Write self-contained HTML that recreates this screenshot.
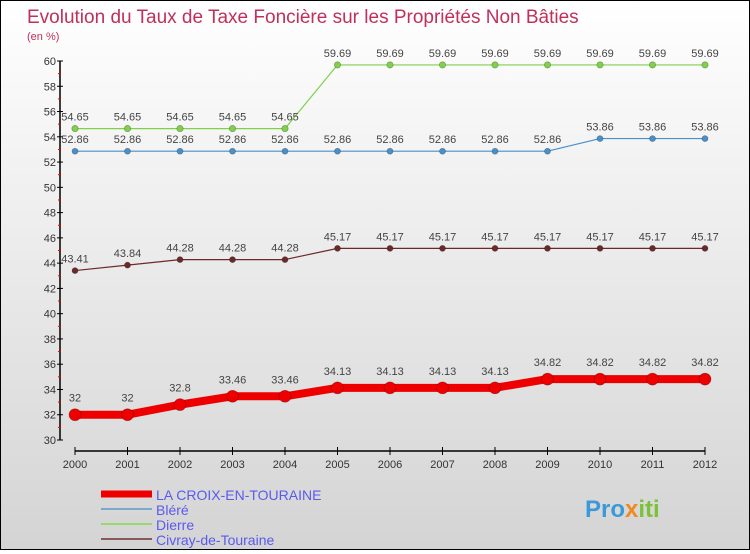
<!DOCTYPE html>
<html><head><meta charset="utf-8"><style>
html,body{margin:0;padding:0;}
body{width:750px;height:550px;overflow:hidden;font-family:"Liberation Sans",sans-serif;}
#c{position:absolute;left:0;top:0;width:748px;height:548px;border:1px solid #000;background:linear-gradient(#ffffff,#d4d4d4);}
</style></head><body>
<div id="c">
<svg id="s" width="748" height="548" xmlns="http://www.w3.org/2000/svg">
<text x="26" y="22" font-size="19" fill="#c0305a">Evolution du Taux de Taxe Foncière sur les Propriétés Non Bâties</text>
<text x="26" y="39" font-size="11" fill="#c0305a">(en %)</text>
<g id="axes"></g>
<g id="series"></g>
<g id="legend"></g>
<text x="584" y="516" font-size="24" font-weight="bold" fill="#3a9ad9">Pro<tspan fill="#f08a20">x</tspan><tspan fill="#7cc13a">iti</tspan></text>
</svg>
</div>
<script>
const years=[2000,2001,2002,2003,2004,2005,2006,2007,2008,2009,2010,2011,2012];
const croix=[32,32,32.8,33.46,33.46,34.13,34.13,34.13,34.13,34.82,34.82,34.82,34.82];
const blere=[52.86,52.86,52.86,52.86,52.86,52.86,52.86,52.86,52.86,52.86,53.86,53.86,53.86];
const dierre=[54.65,54.65,54.65,54.65,54.65,59.69,59.69,59.69,59.69,59.69,59.69,59.69,59.69];
const civray=[43.41,43.84,44.28,44.28,44.28,45.17,45.17,45.17,45.17,45.17,45.17,45.17,45.17];
const yTicks=[30,32,34,36,38,40,42,44,46,48,50,52,54,56,58,60];
const seriesNames=["LA CROIX-EN-TOURAINE","Bléré","Dierre","Civray-de-Touraine"];
const NS="http://www.w3.org/2000/svg";
const yMin=30,yMax=60,yTop=60,yBot=439;
function X(i){return 74+i*52.5;}
function Y(v){return yBot-(v-yMin)/(yMax-yMin)*(yBot-yTop);}
function mk(t,a,p){const e=document.createElementNS(NS,t);for(const k in a)e.setAttribute(k,a[k]);p.appendChild(e);return e;}
const ax=document.getElementById('axes');
let yl=mk('line',{x1:59,y1:yTop,x2:59,y2:yBot,stroke:'#000','stroke-width':1.5},ax);


yTicks.forEach(v=>{
  mk('line',{x1:56,y1:Y(v),x2:62,y2:Y(v),stroke:'#000'},ax);
  if(v<yMax)mk('line',{x1:57,y1:Y(v+1),x2:60,y2:Y(v+1),stroke:'#e00'},ax);
  const t=mk('text',{x:55,y:Y(v)+4,'font-size':11,fill:'#333','text-anchor':'end'},ax);
  t.textContent=v;
  
  
});
let xl=mk('line',{x1:X(0),y1:450,x2:X(12),y2:450,stroke:'#000','stroke-width':1.5},ax);


years.forEach((y,i)=>{
  mk('line',{x1:X(i),y1:446,x2:X(i),y2:454,stroke:'#000'},ax);
  const t=mk('text',{x:X(i),y:467,'font-size':11,fill:'#333','text-anchor':'middle'},ax);
  t.textContent=y;
  
  
});
const sg=document.getElementById('series');
function fmt(v){return String(v);}
function draw(data,color,w,r,name,above){
  const g=mk('g',{},sg);
  
  
  const pl=mk('polyline',{points:data.map((v,i)=>X(i)+','+Y(v)).join(' '),fill:'none',stroke:color,'stroke-width':w,'stroke-linejoin':'round'},g);
  
  
  data.forEach((v,i)=>{
    const c=mk('circle',{cx:X(i),cy:Y(v),r:r,fill:color,stroke:'rgba(0,0,0,0.3)','stroke-width':0.7},g);
    
    
    const t=mk('text',{x:X(i),y:Y(v)-(above||8),'font-size':11,fill:'#444','text-anchor':'middle'},g);
    t.textContent=fmt(v);
    
    
  });
}
draw(civray,'#6b2a2a',1.2,3,'civray');
draw(blere,'#4a8fc8',1.2,3,'blere');
draw(dierre,'#7fd14a',1.2,3.2,'dierre');
draw(croix,'#ee0000',8,6,'croix',13);
const lg=document.getElementById('legend');
const lc=['#ee0000','#7ba9cc','#9ad86e','#8a5a5a'];
const lw=[7,2,2,2];
seriesNames.forEach((n,i)=>{
  const y=493+i*15;
  const l=mk('line',{x1:100,y1:y,x2:151,y2:y,stroke:lc[i],'stroke-width':lw[i]},lg);
  
  
  const t=mk('text',{x:155,y:y+6,'font-size':14,fill:'#5a5aee'},lg);
  t.textContent=n;
  
  
});
</script>
</body></html>
